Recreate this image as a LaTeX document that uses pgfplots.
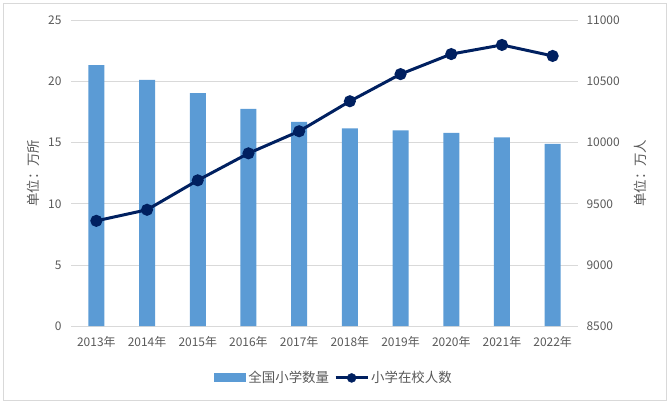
\documentclass[border=0pt]{standalone}
\usepackage{fontspec}
\setmainfont{Noto Sans CJK SC}
\usepackage{pgfplots}
\pgfplotsset{compat=1.18}
\usetikzlibrary{calc}
\definecolor{barblue}{HTML}{5B9BD5}
\definecolor{navy}{HTML}{002060}
\definecolor{gridgray}{HTML}{D9D9D9}
\definecolor{txt}{HTML}{595959}
\begin{document}
\begin{tikzpicture}
\pgfplotsset{
  common/.style={
    scale only axis, width=507bp, height=305.5bp,
    xmin=-0.5, xmax=9.5,
    major tick length=0pt,
    axis line style={draw=none},
    tick label style={font=\fontsize{12}{14}\selectfont, text=txt},
    label style={font=\fontsize{13.5}{15}\selectfont, text=txt},
    scaled y ticks=false,
    /pgf/number format/assume math mode=true,
    /pgf/number format/1000 sep={},
  }
}
\begin{axis}[common, name=ax,
  ymin=0, ymax=25, ytick={0,5,...,25},
  xtick={0,...,9},
  xticklabels={2013年,2014年,2015年,2016年,2017年,2018年,2019年,2020年,2021年,2022年},
  xticklabel style={yshift=-7bp},
  yticklabel style={xshift=-6bp},
  ymajorgrids, grid style={gridgray, line width=0.75pt},
  ylabel={单位：万所},
  ylabel style={at={(axis description cs:-0.075,0.5)}, anchor=center},
  legend columns=2,
  legend style={at={(0.519,-0.17)}, anchor=center, draw=none, fill=none,
    font=\fontsize{13.5}{15}\selectfont, text=txt,
    /tikz/every even column/.append style={column sep=3bp}},
]
\addplot[ybar, bar width=16bp, fill=barblue, draw=none,
  legend image code/.code={\fill[barblue] (0bp,-4.5bp) rectangle (32bp,4.5bp);}]
  coordinates {(0,21.35) (1,20.14) (2,19.05) (3,17.76) (4,16.70) (5,16.18) (6,16.01) (7,15.80) (8,15.43) (9,14.91)};
\addlegendentry{全国小学数量}
\addlegendimage{legend image code/.code={\draw[navy,line width=3pt] (0bp,0) -- (32bp,0); \fill[navy] (16bp,0) circle (4.5bp);}}
\addlegendentry{小学在校人数}
\end{axis}
\begin{axis}[common,
  ymin=8500, ymax=11000, ytick={8500,9000,...,11000},
  xtick=\empty,
  yticklabel pos=right,
  yticklabel style={xshift=5bp},
  ylabel={单位：万人},
  ylabel style={at={(axis description cs:1.122,0.5)}, anchor=center},
]
\addplot[navy, line width=3pt, mark=*, mark size=4.5bp]
  coordinates {(0,9360.55) (1,9451.07) (2,9692.18) (3,9913.01) (4,10093.70) (5,10339.25) (6,10561.24) (7,10725.35) (8,10800) (9,10710)};
\end{axis}
\useasboundingbox ($(ax.south west)+(-71bp,-76bp)$) rectangle ($(ax.north east)+(91bp,20.5bp)$);
\draw[gridgray, line width=0.75pt] ($(ax.south west)+(-68bp,-74bp)$) rectangle ($(ax.north east)+(88bp,17.5bp)$);
\end{tikzpicture}
\end{document}
